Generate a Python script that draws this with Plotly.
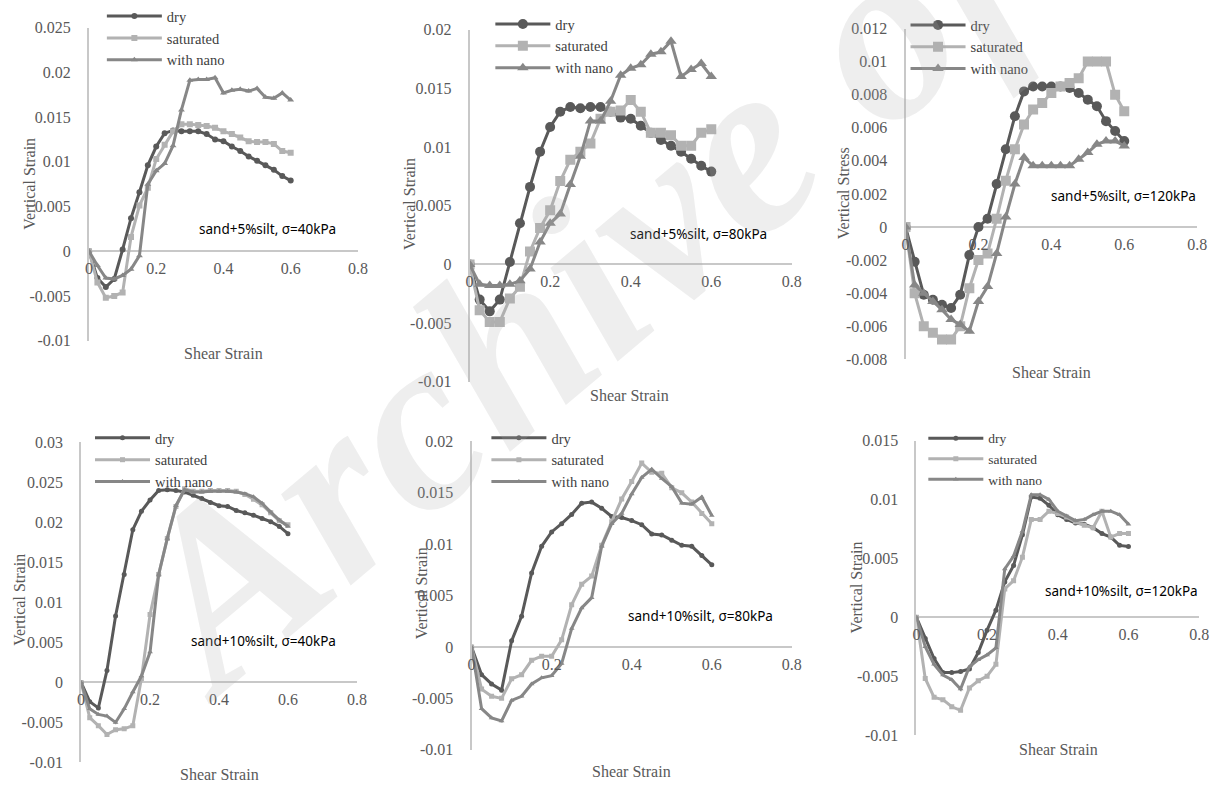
import plotly.graph_objects as go

W, H = 1220, 792

# ---------------- data ----------------
shear = [0, 0.025, 0.05, 0.075, 0.1, 0.125, 0.15, 0.175, 0.2, 0.225, 0.25, 0.275, 0.3,
         0.325, 0.35, 0.375, 0.4, 0.425, 0.45, 0.475, 0.5, 0.525, 0.55, 0.575, 0.6]

series_names = ["dry", "saturated", "with nano"]

# sand+5%silt, 40kPa
p1_dry = [0, -0.003, -0.004, -0.0031, 0.0002, 0.0037, 0.0066, 0.0096, 0.0117, 0.0132, 0.0135, 0.0134, 0.0134,
          0.0134, 0.0131, 0.0125, 0.0123, 0.0117, 0.0112, 0.0106, 0.0101, 0.0096, 0.0091, 0.0084, 0.0079]
p1_sat = [0, -0.0035, -0.0052, -0.005, -0.0046, 0.0016, 0.0051, 0.0071, 0.0103, 0.0119, 0.0134, 0.0142, 0.0142,
          0.0141, 0.014, 0.0138, 0.0134, 0.0131, 0.0127, 0.0123, 0.0122, 0.0122, 0.012, 0.0112, 0.011]
p1_nano = [0, -0.0016, -0.003, -0.0031, -0.0027, -0.002, -0.0005, 0.0075, 0.009, 0.0098, 0.0118, 0.0158, 0.0191,
           0.0192, 0.0192, 0.0194, 0.0177, 0.018, 0.0181, 0.0179, 0.0182, 0.0172, 0.0171, 0.0177, 0.0169]

# sand+5%silt, 80kPa
p2_dry = [0, -0.003, -0.004, -0.003, 0.0002, 0.0035, 0.0066, 0.0096, 0.0117, 0.013, 0.0134, 0.0133, 0.0134,
          0.0134, 0.013, 0.0125, 0.0124, 0.0118, 0.0112, 0.0106, 0.0101, 0.0096, 0.009, 0.0084, 0.0079]
p2_sat = [0, -0.0039, -0.0049, -0.0049, -0.0029, -0.0019, 0.0011, 0.0031, 0.0046, 0.0071, 0.0089, 0.0096, 0.0103,
          0.0124, 0.013, 0.0131, 0.014, 0.013, 0.0112, 0.0112, 0.011, 0.0101, 0.0101, 0.0112, 0.0115]
p2_nano = [0, -0.0017, -0.0018, -0.0018, -0.0017, -0.0014, -0.0004, 0.0019, 0.0035, 0.0043, 0.0068, 0.0092, 0.0122,
           0.0122, 0.0139, 0.0161, 0.0167, 0.017, 0.0179, 0.0181, 0.019, 0.016, 0.0166, 0.0171, 0.016]

# sand+5%silt, 120kPa
p3_dry = [0, -0.0021, -0.0041, -0.0044, -0.0047, -0.0049, -0.0041, -0.0017, 0.0, 0.0005, 0.0026, 0.0047, 0.0067,
          0.0082, 0.0085, 0.0085, 0.0085, 0.0085, 0.0084, 0.0081, 0.0077, 0.0073, 0.0064, 0.0058, 0.0052]
p3_sat = [0, -0.004, -0.006, -0.0064, -0.0068, -0.0068, -0.006, -0.0037, -0.002, -0.0016, 0.0005, 0.0028, 0.0047,
          0.0062, 0.0071, 0.0075, 0.0081, 0.0085, 0.0087, 0.009, 0.01, 0.01, 0.01, 0.008, 0.007]
p3_nano = [0, -0.0035, -0.004, -0.0045, -0.005, -0.0056, -0.0059, -0.0063, -0.0045, -0.0036, -0.0016, 0.0006, 0.0026,
           0.0042, 0.0037, 0.0037, 0.0037, 0.0037, 0.0037, 0.0041, 0.0045, 0.005, 0.0052, 0.0052, 0.0049]

# sand+10%silt, 40kPa
p4_dry = [0, -0.0024, -0.0032, 0.0015, 0.0083, 0.0135, 0.0191, 0.0214, 0.0228, 0.024, 0.0241, 0.024, 0.0238,
          0.0234, 0.023, 0.0225, 0.0221, 0.022, 0.0215, 0.0212, 0.0209, 0.0205, 0.0201, 0.0195, 0.0186]
p4_sat = [0, -0.0044, -0.0054, -0.0065, -0.0059, -0.0058, -0.0054, 0.0005, 0.0085, 0.0135, 0.018, 0.022, 0.0242,
          0.0239, 0.0239, 0.024, 0.024, 0.024, 0.0239, 0.0235, 0.0229, 0.0222, 0.0212, 0.0202, 0.0197]
p4_nano = [0, -0.0033, -0.004, -0.0042, -0.005, -0.0033, -0.0012, 0.0008, 0.0038, 0.0135, 0.018, 0.0221, 0.0241,
           0.0238, 0.0238, 0.0239, 0.0239, 0.0239, 0.0238, 0.0236, 0.0232, 0.0224, 0.0213, 0.0203, 0.0195]

# sand+10%silt, 80kPa
p5_dry = [0, -0.0027, -0.0036, -0.0042, 0.0006, 0.003, 0.0072, 0.0098, 0.0112, 0.012, 0.0129, 0.014, 0.0141,
          0.0135, 0.0127, 0.0126, 0.0123, 0.0119, 0.011, 0.0109, 0.0104, 0.0099, 0.0098, 0.0089, 0.008]
p5_sat = [0, -0.0041, -0.0048, -0.005, -0.0031, -0.0027, -0.0013, -0.0009, -0.0009, 0.0007, 0.0041, 0.0061, 0.0069,
          0.0099, 0.0122, 0.0144, 0.0161, 0.0179, 0.017, 0.0169, 0.0155, 0.015, 0.0141, 0.013, 0.012]
p5_nano = [0, -0.006, -0.0069, -0.0072, -0.0052, -0.0048, -0.0036, -0.003, -0.0028, -0.0016, 0.0018, 0.0038, 0.0048,
           0.0098, 0.012, 0.013, 0.0149, 0.0165, 0.0173, 0.0164, 0.0156, 0.014, 0.0139, 0.0146, 0.0128]

# sand+10%silt, 120kPa
p6_dry = [0, -0.0018, -0.0035, -0.0047, -0.0047, -0.0046, -0.0044, -0.003, -0.0011, 0.0006, 0.003, 0.0044, 0.007,
          0.0102, 0.0101, 0.0095, 0.0087, 0.0083, 0.008, 0.0079, 0.0076, 0.0071, 0.0068, 0.0061, 0.006]
p6_sat = [0, -0.0052, -0.0068, -0.007, -0.0076, -0.0079, -0.006, -0.0054, -0.005, -0.004, 0.0024, 0.0031, 0.0051,
          0.0083, 0.0083, 0.009, 0.0088, 0.0085, 0.0081, 0.0078, 0.0076, 0.009, 0.0068, 0.0071, 0.0071]
p6_nano = [0, -0.0025, -0.004, -0.0049, -0.0053, -0.0061, -0.0042, -0.0036, -0.0032, -0.0026, 0.0041, 0.0052, 0.0073,
           0.0104, 0.0104, 0.01, 0.009, 0.0086, 0.0082, 0.0083, 0.0087, 0.009, 0.009, 0.0087, 0.0079]

x_ticks = [0, 0.2, 0.4, 0.6, 0.8]
x_ticktext = ["0", "0.2", "0.4", "0.6", "0.8"]

y_ticks_a = [-0.01, -0.005, 0, 0.005, 0.01, 0.015, 0.02, 0.025]
y_text_a = ["-0.01", "-0.005", "0", "0.005", "0.01", "0.015", "0.02", "0.025"]
y_ticks_b = [-0.01, -0.005, 0, 0.005, 0.01, 0.015, 0.02]
y_text_b = ["-0.01", "-0.005", "0", "0.005", "0.01", "0.015", "0.02"]
y_ticks_c = [-0.008, -0.006, -0.004, -0.002, 0, 0.002, 0.004, 0.006, 0.008, 0.01, 0.012]
y_text_c = ["-0.008", "-0.006", "-0.004", "-0.002", "0", "0.002", "0.004", "0.006", "0.008", "0.01", "0.012"]
y_ticks_d = [-0.01, -0.005, 0, 0.005, 0.01, 0.015, 0.02, 0.025, 0.03]
y_text_d = ["-0.01", "-0.005", "0", "0.005", "0.01", "0.015", "0.02", "0.025", "0.03"]
y_ticks_f = [-0.01, -0.005, 0, 0.005, 0.01, 0.015]
y_text_f = ["-0.01", "-0.005", "0", "0.005", "0.01", "0.015"]

captions = ["sand+5%silt, σ=40kPa", "sand+5%silt, σ=80kPa", "sand+5%silt, σ=120kPa",
            "sand+10%silt, σ=40kPa", "sand+10%silt, σ=80kPa", "sand+10%silt, σ=120kPa"]
y_titles = ["Vertical Strain", "Vertical Strain", "Vertical Stress",
            "Vertical Strain", "Vertical Strain", "Vertical Strain"]
x_title = "Shear Strain"
watermark = "Archive of SID"

# ---------------- layout / style ----------------
COLORS = ["#595959", "#b2b2b2", "#878787"]
SYMBOLS = ["circle", "square", "triangle-up"]
SERIF = "Liberation Serif, Times New Roman, serif"
TXT = "#595959"
AXC = "#c8c8c8"

panels = [
    dict(box=(86, 358, 20, 340), yr=(-0.01, 0.025), yt=y_ticks_a, ytt=y_text_a,
         data=(p1_dry, p1_sat, p1_nano), ms=6, cap=(267, 226), ytl=(25, 180), xtl=(222, 353),
         leg=(99, -8), lf=14.5),
    dict(box=(471, 797, 22, 382), yr=(-0.01, 0.02), yt=y_ticks_b, ytt=y_text_b,
         data=(p2_dry, p2_sat, p2_nano), ms=10, cap=(703, 231), ytl=(410, 200), xtl=(633, 396),
         leg=(492, 0), lf=14.5),
    dict(box=(912, 1207, 21, 359), yr=(-0.008, 0.012), yt=y_ticks_c, ytt=y_text_c,
         data=(p3_dry, p3_sat, p3_nano), ms=10, cap=(1133, 192), ytl=(850, 189), xtl=(1060, 373),
         leg=(912, 1), lf=14.5),
    dict(box=(78, 357, 444, 771), yr=(-0.01, 0.03), yt=y_ticks_d, ytt=y_text_d,
         data=(p4_dry, p4_sat, p4_nano), ms=5, cap=(263, 647), ytl=(15, 605), xtl=(218, 783),
         leg=(87, 423), lf=14.5),
    dict(box=(473, 797, 443, 758), yr=(-0.01, 0.02), yt=y_ticks_b, ytt=y_text_b,
         data=(p5_dry, p5_sat, p5_nano), ms=5, cap=(705, 621), ytl=(422, 598), xtl=(635, 780),
         leg=(488, 423), lf=14.5),
    dict(box=(923, 1209, 442, 743), yr=(-0.01, 0.015), yt=y_ticks_f, ytt=y_text_f,
         data=(p6_dry, p6_sat, p6_nano), ms=5, cap=(1130, 596), ytl=(862, 592), xtl=(1067, 758),
         leg=(930, 424), lf=13.5),
]


def px(p):
    return p / W


def py(p):
    return 1 - p / H


fig = go.Figure()
annotations = []
layout = dict(
    width=W, height=H, margin=dict(l=0, r=0, t=0, b=0),
    paper_bgcolor="white", plot_bgcolor="rgba(0,0,0,0)",
    font=dict(family=SERIF, color=TXT, size=16),
)

for i, pnl in enumerate(panels, start=1):
    sfx = "" if i == 1 else str(i)
    x0, x1, yt0, yb0 = pnl["box"]
    ymin, ymax = pnl["yr"]
    yzero = yt0 + (ymax - 0) / (ymax - ymin) * (yb0 - yt0)
    leg_name = "legend" if i == 1 else f"legend{i}"
    for k in range(3):
        fig.add_trace(go.Scatter(
            x=shear, y=pnl["data"][k], name=series_names[k],
            mode="lines+markers",
            line=dict(color=COLORS[k], width=3),
            marker=dict(symbol=SYMBOLS[k], size=pnl["ms"], color=COLORS[k]),
            xaxis="x" + sfx, yaxis="y" + sfx, legend=leg_name,
        ))
    layout["xaxis" + sfx] = dict(
        domain=[px(x0), px(x1)], range=[0, 0.8], anchor="free", position=py(yzero),
        tickvals=x_ticks, ticktext=x_ticktext, showgrid=False, zeroline=False,
        showline=False, ticks="", ticklabelstandoff=6,
        tickfont=dict(family=SERIF, size=16, color=TXT),
    )
    layout["yaxis" + sfx] = dict(
        domain=[py(yb0), py(yt0)], range=[ymin, ymax], anchor="x" + sfx,
        tickvals=pnl["yt"], ticktext=pnl["ytt"], showgrid=False,
        zeroline=True, zerolinecolor=AXC, zerolinewidth=2,
        showline=True, linecolor=AXC, linewidth=2, ticks="", ticklabelstandoff=13,
        tickfont=dict(family=SERIF, size=16, color=TXT),
    )
    lx, ly = pnl["leg"]
    layout[leg_name] = dict(
        x=px(lx), y=py(ly), xanchor="left", yanchor="top",
        bgcolor="rgba(0,0,0,0)", borderwidth=0, itemwidth=55,
        font=dict(family=SERIF, size=pnl["lf"], color="#404040"),
        tracegroupgap=0,
    )
    annotations.append(dict(
        text=captions[i - 1], x=px(pnl["cap"][0]), y=py(pnl["cap"][1]),
        xref="paper", yref="paper", showarrow=False, xanchor="center", yanchor="middle",
        font=dict(family="Noto Sans", size=13.5, color="black"),
    ))
    annotations.append(dict(
        text=y_titles[i - 1], x=px(pnl["ytl"][0]), y=py(pnl["ytl"][1]),
        xref="paper", yref="paper", showarrow=False, textangle=-90,
        xanchor="center", yanchor="middle",
        font=dict(family=SERIF, size=16, color=TXT),
    ))
    annotations.append(dict(
        text=x_title, x=px(pnl["xtl"][0]), y=py(pnl["xtl"][1]),
        xref="paper", yref="paper", showarrow=False,
        xanchor="center", yanchor="middle",
        font=dict(family=SERIF, size=16, color=TXT),
    ))

# faint diagonal watermark, as in the source page
annotations.append(dict(
    text=watermark, x=px(760), y=py(130), xref="paper", yref="paper",
    showarrow=False, textangle=-40, xanchor="center", yanchor="middle",
    font=dict(family=SERIF, size=250, color="rgba(170,170,170,0.2)", style="italic", weight="bold"),
))

layout["annotations"] = annotations
layout["showlegend"] = True
fig.update_layout(**layout)

fig.write_html("out.html")
